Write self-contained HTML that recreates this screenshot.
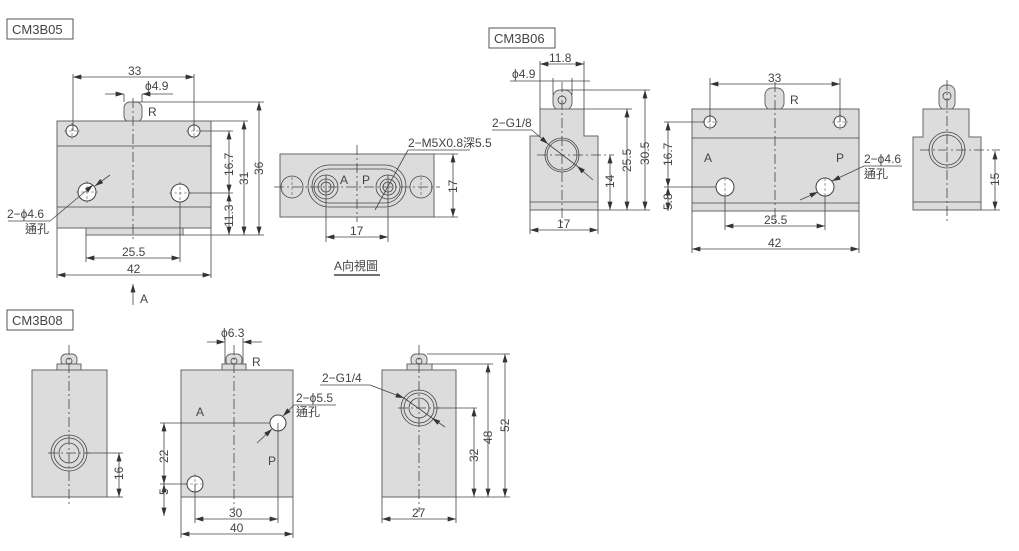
<!DOCTYPE html>
<html><head><meta charset="utf-8"><style>
html,body{margin:0;padding:0;background:#fff;}
svg{display:block;}
text{font-family:"Liberation Sans","Noto Sans CJK TC",sans-serif;font-size:12px;fill:#444;}
.b{fill:#dcdcdc;stroke:#666;stroke-width:1;}
.l{stroke:#444;stroke-width:0.8;fill:none;}
.c{stroke:#444;stroke-width:0.8;fill:none;stroke-dasharray:10,3,2,3;}
.h{fill:#fff;stroke:#444;stroke-width:1;}
.x{stroke:#555;stroke-width:0.6;stroke-dasharray:3,2;}
.d{stroke:#444;stroke-width:0.8;fill:none;marker-start:url(#a);marker-end:url(#a);}
.e{stroke:#444;stroke-width:0.8;fill:none;marker-end:url(#a);}
</style></head><body>
<svg width="1019" height="551" viewBox="0 0 1019 551" xmlns="http://www.w3.org/2000/svg">
<defs><marker id="a" viewBox="0 0 10 6" refX="10" refY="3" markerWidth="9" markerHeight="5" orient="auto-start-reverse" markerUnits="userSpaceOnUse"><path d="M0,0L10,3L0,6z" fill="#333"/></marker></defs>

<rect x="7" y="19" width="66" height="20" fill="#fff" stroke="#555"/><text x="12" y="34" style="font-size:13px">CM3B05</text>
<rect x="489" y="28" width="66" height="20" fill="#fff" stroke="#555"/><text x="494" y="43" style="font-size:13px">CM3B06</text>
<rect x="7" y="310" width="66" height="20" fill="#fff" stroke="#555"/><text x="12" y="325" style="font-size:13px">CM3B08</text>

<!-- CM3B05 front -->
<rect class="b" x="86" y="225" width="97" height="10"/>
<rect class="b" x="124" y="102" width="18" height="20" rx="6"/>
<rect class="b" x="57" y="121" width="154" height="107"/>
<line class="l" x1="57" y1="146" x2="211" y2="146"/><line class="l" x1="57" y1="207" x2="211" y2="207"/>
<circle class="h" cx="72" cy="131" r="6"/><circle class="h" cx="194" cy="131" r="6"/>
<circle class="h" cx="87" cy="192" r="9"/><circle class="h" cx="180" cy="193" r="9"/>
<path class="x" d="M64,131h16M72,123v16M186,131h16M194,123v16M76,192h22M87,181v22M169,193h22M180,182v22"/>
<line class="c" x1="133" y1="98" x2="133" y2="242"/>
<line class="l" x1="73" y1="74" x2="73" y2="131"/><line class="l" x1="194" y1="74" x2="194" y2="131"/>
<line class="d" x1="73" y1="77" x2="194" y2="77"/><text x="128" y="75">33</text>
<line class="e" x1="105" y1="94" x2="124" y2="94"/><line class="e" x1="173" y1="94" x2="142" y2="94"/><line class="l" x1="124" y1="94" x2="124" y2="102"/><line class="l" x1="142" y1="94" x2="142" y2="102"/>
<text x="145" y="90">ϕ4.9</text><text x="148" y="116">R</text>
<line class="l" x1="133" y1="102" x2="264" y2="102"/><line class="l" x1="211" y1="121" x2="248" y2="121"/><line class="l" x1="200" y1="131" x2="233" y2="131"/>
<line class="l" x1="189" y1="193" x2="233" y2="193"/><line class="l" x1="183" y1="235" x2="264" y2="235"/>
<line class="d" x1="259" y1="102" x2="259" y2="235"/><text transform="translate(263,175) rotate(-90)">36</text>
<line class="d" x1="244" y1="121" x2="244" y2="235"/><text transform="translate(248,185) rotate(-90)">31</text>
<line class="d" x1="229" y1="131" x2="229" y2="193"/><text transform="translate(233,176) rotate(-90)">16.7</text>
<line class="d" x1="229" y1="193" x2="229" y2="235"/><text transform="translate(233,227) rotate(-90)">11.3</text>
<line class="l" x1="86" y1="235" x2="86" y2="262"/><line class="l" x1="180" y1="202" x2="180" y2="262"/>
<line class="d" x1="86" y1="258" x2="180" y2="258"/><text x="122" y="256">25.5</text>
<line class="l" x1="57" y1="228" x2="57" y2="278"/><line class="l" x1="211" y1="228" x2="211" y2="278"/>
<line class="d" x1="57" y1="275" x2="211" y2="275"/><text x="127" y="273">42</text>
<text x="7" y="218">2−ϕ4.6</text><text x="25" y="233">通孔</text>
<line class="l" x1="8" y1="221" x2="50" y2="221"/><line class="e" x1="50" y1="221" x2="93" y2="185"/><line class="e" x1="110" y1="175" x2="95" y2="186"/>
<line class="e" x1="133" y1="305" x2="133" y2="284"/><text x="140" y="303">A</text>

<!-- A view -->
<rect class="b" x="280" y="154" width="154" height="63"/>
<rect class="l" x="308" y="165" width="98" height="42" rx="21"/>
<rect class="l" x="312" y="169" width="90" height="34" rx="17"/>
<circle class="l" cx="292" cy="187" r="11"/><circle class="l" cx="421" cy="187" r="11"/>
<circle class="l" cx="326" cy="187" r="12"/><circle class="l" cx="326" cy="187" r="8"/><circle class="l" cx="326" cy="187" r="5"/>
<circle class="l" cx="388" cy="187" r="12"/><circle class="l" cx="388" cy="187" r="8"/><circle class="l" cx="388" cy="187" r="5"/>
<path class="x" d="M292,177v20M421,177v20"/>
<line class="c" x1="274" y1="187" x2="440" y2="187"/><line class="c" x1="357" y1="145" x2="357" y2="222"/>
<text x="340" y="184">A</text><text x="362" y="184">P</text>
<line class="l" x1="326" y1="175" x2="326" y2="242"/><line class="l" x1="388" y1="175" x2="388" y2="242"/>
<line class="d" x1="326" y1="237" x2="388" y2="237"/><text x="350" y="235">17</text>
<line class="l" x1="434" y1="154" x2="458" y2="154"/><line class="l" x1="434" y1="217" x2="458" y2="217"/>
<line class="d" x1="453" y1="154" x2="453" y2="217"/><text transform="translate(457,193) rotate(-90)">17</text>
<text x="408" y="147">2−M5X0.8深5.5</text><line class="l" x1="408" y1="150" x2="470" y2="150"/><line class="l" x1="408" y1="150" x2="375" y2="210"/>
<text x="334" y="270">A向視圖</text><line class="l" x1="334" y1="275" x2="380" y2="275" style="stroke-width:1.5"/>

<!-- CM3B06 side -->
<rect class="b" x="553" y="90" width="19" height="20" rx="7"/><circle class="l" cx="562" cy="100" r="4"/>
<path class="b" d="M540,109H584V136H598V210H530V136H540Z"/>
<line class="l" x1="530" y1="202" x2="598" y2="202"/>
<circle class="l" cx="562" cy="155" r="17"/><circle class="l" cx="562" cy="155" r="15"/>
<line class="c" x1="562" y1="82" x2="562" y2="225"/><line class="c" x1="537" y1="155" x2="614" y2="155"/>
<line class="l" x1="540" y1="61" x2="540" y2="109"/><line class="l" x1="584" y1="61" x2="584" y2="109"/>
<line class="d" x1="540" y1="64" x2="584" y2="64"/><text x="549" y="62">11.8</text>
<line class="l" x1="510" y1="81" x2="590" y2="81"/><line class="l" x1="553" y1="78" x2="553" y2="95"/><line class="l" x1="572" y1="78" x2="572" y2="95"/>
<text x="512" y="78">ϕ4.9</text>
<line class="l" x1="562" y1="90" x2="650" y2="90"/><line class="l" x1="584" y1="109" x2="632" y2="109"/><line class="l" x1="598" y1="210" x2="650" y2="210"/>
<line class="d" x1="645" y1="90" x2="645" y2="210"/><text transform="translate(649,165) rotate(-90)">30.5</text>
<line class="d" x1="627" y1="109" x2="627" y2="210"/><text transform="translate(631,172) rotate(-90)">25.5</text>
<line class="d" x1="610" y1="155" x2="610" y2="210"/><text transform="translate(614,188) rotate(-90)">14</text>
<line class="l" x1="530" y1="210" x2="530" y2="234"/><line class="l" x1="598" y1="210" x2="598" y2="234"/>
<line class="d" x1="530" y1="230" x2="598" y2="230"/><text x="557" y="228">17</text>
<text x="492" y="127">2−G1/8</text><line class="l" x1="492" y1="130" x2="532" y2="130"/><line class="e" x1="532" y1="130" x2="548" y2="144"/><line class="e" x1="593" y1="180" x2="577" y2="166"/><line class="l" x1="548" y1="144" x2="577" y2="166"/>

<!-- CM3B06 front -->
<rect class="b" x="765" y="88" width="19" height="22" rx="7"/>
<rect class="b" x="692" y="109" width="167" height="102"/>
<line class="l" x1="692" y1="138" x2="859" y2="138"/><line class="l" x1="692" y1="203" x2="859" y2="203"/>
<circle class="h" cx="710" cy="122" r="6"/><circle class="h" cx="840" cy="122" r="6"/>
<circle class="h" cx="725" cy="187" r="9"/><circle class="h" cx="825" cy="187" r="9"/>
<path class="x" d="M702,122h16M710,114v16M832,122h16M840,114v16M725,178v18M825,178v18"/>
<line class="c" x1="775" y1="82" x2="775" y2="226"/>
<text x="704" y="162">A</text><text x="836" y="162">P</text><text x="790" y="104">R</text>
<line class="l" x1="710" y1="78" x2="710" y2="122"/><line class="l" x1="840" y1="78" x2="840" y2="122"/>
<line class="d" x1="710" y1="84" x2="840" y2="84"/><text x="768" y="82">33</text>
<line class="l" x1="664" y1="122" x2="704" y2="122"/><line class="l" x1="664" y1="187" x2="716" y2="187"/>
<line class="d" x1="668" y1="122" x2="668" y2="187"/><text transform="translate(672,166) rotate(-90)">16.7</text>
<line class="d" x1="668" y1="187" x2="668" y2="211"/><text transform="translate(672,210) rotate(-90)">5.8</text>
<line class="l" x1="725" y1="196" x2="725" y2="230"/><line class="l" x1="825" y1="196" x2="825" y2="230"/>
<line class="d" x1="725" y1="226" x2="825" y2="226"/><text x="764" y="224">25.5</text>
<line class="l" x1="692" y1="211" x2="692" y2="253"/><line class="l" x1="859" y1="211" x2="859" y2="253"/>
<line class="d" x1="692" y1="249" x2="859" y2="249"/><text x="768" y="247">42</text>
<text x="864" y="163">2−ϕ4.6</text><text x="864" y="178">通孔</text>
<line class="l" x1="864" y1="166" x2="902" y2="166"/><line class="e" x1="864" y1="166" x2="832" y2="181"/><line class="e" x1="800" y1="200" x2="818" y2="192"/>

<!-- CM3B06 right -->
<rect class="b" x="939" y="85" width="16" height="25" rx="7"/><circle class="l" cx="947" cy="96" r="4"/>
<path class="b" d="M923,109H969V137H981V210H913V137H923Z"/>
<line class="l" x1="913" y1="202" x2="981" y2="202"/>
<circle class="l" cx="947" cy="150" r="18"/><circle class="l" cx="947" cy="150" r="15"/>
<line class="c" x1="947" y1="80" x2="947" y2="222"/><line class="c" x1="920" y1="150" x2="1000" y2="150"/>
<line class="l" x1="981" y1="210" x2="1000" y2="210"/>
<line class="d" x1="995" y1="151" x2="995" y2="210"/><text transform="translate(999,186) rotate(-90)">15</text>

<!-- CM3B08 left -->
<rect class="b" x="61" y="354" width="16" height="12" rx="5"/><rect class="b" x="57" y="364" width="24" height="7"/><circle class="l" cx="69" cy="361" r="3"/>
<rect class="b" x="32" y="370" width="75" height="127"/>
<circle class="l" cx="69" cy="453" r="18"/><circle class="l" cx="69" cy="453" r="15"/><circle class="l" cx="69" cy="453" r="10"/>
<line class="c" x1="69" y1="345" x2="69" y2="505"/><line class="c" x1="48" y1="453" x2="90" y2="453"/>
<line class="l" x1="87" y1="453" x2="123" y2="453"/><line class="l" x1="107" y1="497" x2="123" y2="497"/>
<line class="d" x1="119" y1="453" x2="119" y2="497"/><text transform="translate(123,480) rotate(-90)">16</text>

<!-- CM3B08 middle -->
<rect class="b" x="226" y="354" width="16" height="12" rx="5"/><rect class="b" x="222" y="364" width="24" height="7"/><circle class="l" cx="234" cy="361" r="3"/>
<rect class="b" x="181" y="370" width="112" height="127"/>
<circle class="h" cx="278" cy="423" r="8"/><circle class="h" cx="195" cy="484" r="8"/>
<path class="x" d="M185,484h20M195,474v20"/>
<line class="c" x1="234" y1="345" x2="234" y2="510"/>
<text x="196" y="416">A</text><text x="268" y="465">P</text><text x="252" y="366">R</text>
<line class="e" x1="207" y1="342" x2="225" y2="342"/><line class="e" x1="262" y1="342" x2="243" y2="342"/><line class="l" x1="225" y1="338" x2="225" y2="364"/><line class="l" x1="243" y1="338" x2="243" y2="364"/>
<text x="221" y="337">ϕ6.3</text>
<line class="l" x1="160" y1="423" x2="270" y2="423"/><line class="l" x1="160" y1="484" x2="187" y2="484"/>
<line class="d" x1="164" y1="423" x2="164" y2="484"/><text transform="translate(168,463) rotate(-90)">22</text>
<line class="d" x1="164" y1="484" x2="164" y2="516"/><text transform="translate(168,495) rotate(-90)">5</text>
<line class="l" x1="195" y1="484" x2="195" y2="523"/><line class="l" x1="278" y1="423" x2="278" y2="523"/>
<line class="d" x1="195" y1="519" x2="278" y2="519"/><text x="229" y="517">30</text>
<line class="l" x1="181" y1="497" x2="181" y2="538"/><line class="l" x1="293" y1="497" x2="293" y2="538"/>
<line class="d" x1="181" y1="534" x2="293" y2="534"/><text x="230" y="532">40</text>
<text x="296" y="402">2−ϕ5.5</text><text x="296" y="416">通孔</text>
<line class="l" x1="294" y1="405" x2="336" y2="405"/><line class="e" x1="294" y1="405" x2="283" y2="416"/><line class="e" x1="257" y1="443" x2="272" y2="429"/>

<!-- CM3B08 right -->
<rect class="b" x="411" y="354" width="16" height="12" rx="5"/><rect class="b" x="407" y="364" width="25" height="7"/><circle class="l" cx="419" cy="361" r="3"/>
<rect class="b" x="382" y="370" width="74" height="127"/>
<circle class="l" cx="419" cy="408" r="18"/><circle class="l" cx="419" cy="408" r="15"/><circle class="l" cx="419" cy="408" r="10"/>
<line class="c" x1="419" y1="345" x2="419" y2="512"/><line class="c" x1="398" y1="408" x2="440" y2="408"/>
<line class="l" x1="437" y1="408" x2="477" y2="408"/><line class="l" x1="432" y1="364" x2="493" y2="364"/><line class="l" x1="427" y1="354" x2="510" y2="354"/><line class="l" x1="456" y1="497" x2="510" y2="497"/>
<line class="d" x1="474" y1="408" x2="474" y2="497"/><text transform="translate(478,462) rotate(-90)">32</text>
<line class="d" x1="488" y1="364" x2="488" y2="497"/><text transform="translate(492,444) rotate(-90)">48</text>
<line class="d" x1="505" y1="354" x2="505" y2="497"/><text transform="translate(509,432) rotate(-90)">52</text>
<line class="l" x1="382" y1="497" x2="382" y2="523"/><line class="l" x1="456" y1="497" x2="456" y2="523"/>
<line class="d" x1="382" y1="519" x2="456" y2="519"/><text x="412" y="517">27</text>
<text x="322" y="382">2−G1/4</text><line class="l" x1="320" y1="385" x2="370" y2="385"/><line class="e" x1="370" y1="385" x2="404" y2="398"/><line class="e" x1="445" y1="427" x2="432" y2="418"/><line class="l" x1="404" y1="398" x2="432" y2="418"/>
</svg>
</body></html>
